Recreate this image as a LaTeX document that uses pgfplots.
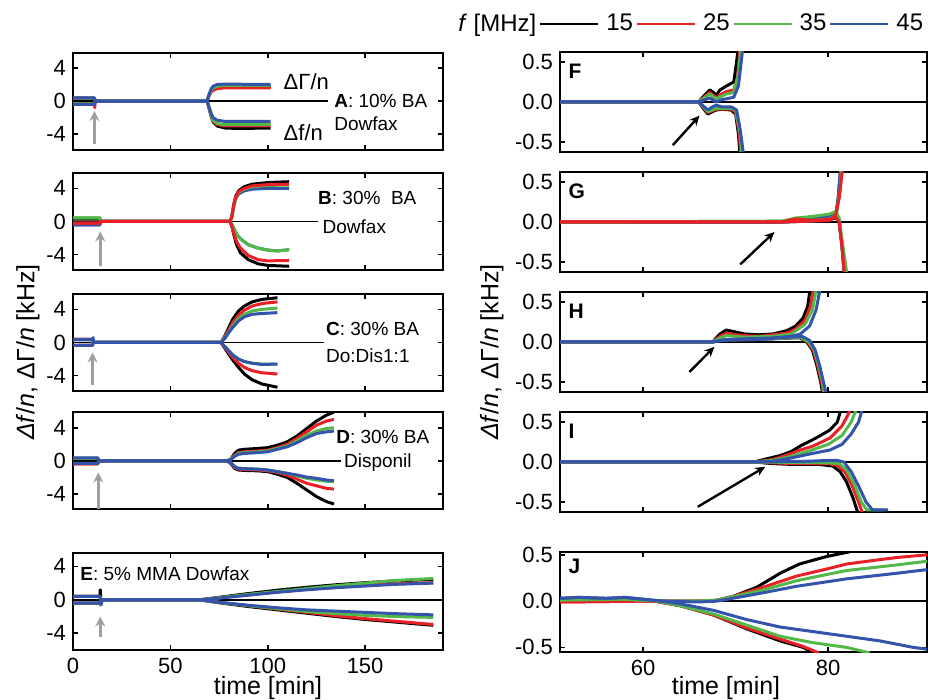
\documentclass[border=0pt]{standalone}
\usepackage{fontspec}
\setmainfont{Liberation Sans}
\usepackage{pgfplots}
\pgfplotsset{compat=1.18}
\usetikzlibrary{arrows.meta}

\definecolor{qred}{RGB}{235,32,38}
\definecolor{qgreen}{RGB}{84,184,72}
\definecolor{qblue}{RGB}{52,84,172}

\tikzset{
  c15/.style={black},
  c25/.style={qred},
  c35/.style={qgreen},
  c45/.style={qblue},
  zero/.style={black, line width=0.8pt},
  lab/.style={font=\fontsize{9.5}{11}\selectfont, anchor=west, inner sep=0pt},
  plab/.style={font=\fontsize{10.5}{12}\selectfont\bfseries, anchor=west, inner sep=0pt},
  garrow/.style={-{Stealth[length=5pt,width=5pt]}, gray!75, line width=1.5pt},
  karrow/.style={-{Stealth[length=5pt,width=4.5pt]}, black, line width=1.2pt},
}
\pgfplotsset{
  panel/.style={
    scale only axis,
    axis line style={line width=1pt},
    tick align=inside,
    major tick length=2.5pt,
    tick style={black, line width=0.8pt},
    ticklabel style={font=\fontsize{11}{12}\selectfont},
    xticklabel style={inner ysep=1pt, yshift=-2.7pt},
    /pgf/number format/assume math mode=true,
    every axis plot/.append style={line width=1.5pt, line join=round},
  },
  leftpanel/.style={panel,
    width=185pt, height=48.5pt,
    xmin=0, xmax=190, ymin=-5.85, ymax=5.85,
    xtick={0,50,100,150}, xticklabels={},
    ytick={-4,0,4}, yticklabels={-4,0,4},
  },
  rightpanel/.style={panel,
    width=183.5pt, height=50pt,
    xmin=51, xmax=90.7, ymin=-0.625, ymax=0.625,
    xtick={60,80}, xticklabels={},
    ytick={-0.5,0,0.5}, yticklabels={-0.5,0.0,0.5},
  },
}

\begin{document}
\begin{tikzpicture}
\path[use as bounding box] (0pt,0pt) rectangle (464pt,-350pt);

% ---------------- A ----------------
\begin{axis}[leftpanel, at={(36.5pt,-26.3pt)}, anchor=north west]
\addplot[zero] coordinates {(0,0) (131,0)};
\addplot[c15] coordinates {(0,0.35) (11,0.35) (11.3,0) (68,0) (69,0.1) (70,0.8) (71,1.3) (72,1.6) (74,1.8) (78,1.8) (90,1.75) (101.5,1.75)};
\addplot[c15] coordinates {(0,-0.35) (11,-0.35) (11.3,0) (68,0) (69,-0.1) (70,-1.0) (71,-1.9) (72,-2.5) (74,-3.0) (78,-3.25) (85,-3.3) (101.5,-3.25)};
\addplot[c25] coordinates {(0,0.35) (11,0.35) (11.3,0) (68,0) (69,0.1) (70,0.7) (71,1.1) (72,1.3) (74,1.5) (78,1.6) (90,1.6) (101.5,1.6)};
\addplot[c25] coordinates {(0,-0.35) (11,-0.35) (11.2,-0.8) (11.4,0) (68,0) (69,-0.1) (70,-0.9) (71,-1.8) (72,-2.4) (74,-2.8) (78,-3.0) (101.5,-3.0)};
\addplot[c35] coordinates {(0,0.35) (11,0.35) (11.3,0) (68,0) (69,0.1) (70,0.8) (71,1.3) (72,1.6) (74,1.8) (78,1.9) (101.5,1.9)};
\addplot[c35] coordinates {(0,-0.35) (11,-0.35) (11.3,0) (68,0) (69,-0.1) (70,-0.9) (71,-1.7) (72,-2.3) (74,-2.7) (78,-2.85) (101.5,-2.85)};
\addplot[c45] coordinates {(0,0.4) (11,0.4) (11.3,0) (68,0) (69,0.1) (70,0.9) (71,1.5) (72,1.8) (74,2.0) (78,2.05) (101.5,2.0)};
\addplot[c45] coordinates {(0,-0.4) (11,-0.4) (11.3,0) (68,0) (69,-0.1) (70,-0.8) (71,-1.5) (72,-2.0) (74,-2.3) (78,-2.45) (101.5,-2.45)};
\draw[garrow] (axis cs:11,-5.2) -- (axis cs:11,-1.2);
\node[lab, font=\fontsize{11}{12}\selectfont] at (axis cs:108,2.4) {ΔΓ/n};
\node[lab, font=\fontsize{11}{12}\selectfont] at (axis cs:108,-3.85) {Δf/n};
\node[lab] at (axis cs:134,0) {\textbf{A}: 10\% BA};
\node[lab] at (axis cs:134,-2.7) {Dowfax};
\end{axis}

% ---------------- B ----------------
\begin{axis}[leftpanel, at={(36.5pt,-86.5pt)}, anchor=north west]
\addplot[zero] coordinates {(0,0) (125.7,0)};
\addplot[c15] coordinates {(0,0.3) (13.8,0.3) (14.2,0) (80.5,0) (81.5,0.5) (82.5,2.0) (83.5,3.0) (85,3.7) (88,4.2) (92,4.5) (100,4.7) (111,4.8)};
\addplot[c15] coordinates {(0,-0.3) (13.8,-0.3) (14.2,0) (80.5,0) (81.5,-0.5) (82.5,-1.5) (84,-2.8) (86,-3.8) (90,-4.6) (95,-5.1) (100,-5.3) (111,-5.4)};
\addplot[c45] coordinates {(0,-0.4) (13.8,-0.4) (14.2,0) (80.5,0) (81.5,0.4) (82.5,1.8) (83.5,2.7) (85,3.3) (88,3.7) (92,3.9) (100,4.0) (111,4.0)};
\addplot[c45] coordinates {(0,-0.4) (13.8,-0.4) (14.2,0) (80.5,0) (81.5,-0.3) (82.5,-0.8) (84,-1.5) (86,-2.1) (90,-2.8) (95,-3.2) (100,-3.45) (105,-3.55) (111,-3.4)};
\addplot[c35] coordinates {(0,0.45) (13.8,0.45) (14.2,0) (80.5,0) (81.5,0.4) (82.5,1.8) (83.5,2.8) (85,3.5) (88,3.9) (92,4.2) (100,4.35) (111,4.4)};
\addplot[c35] coordinates {(0,0.45) (13.8,0.45) (14.2,0) (80.5,0) (81.5,-0.3) (82.5,-0.8) (84,-1.5) (86,-2.1) (90,-2.8) (95,-3.2) (100,-3.45) (105,-3.55) (111,-3.4)};
\addplot[c25] coordinates {(0,-0.2) (13.8,-0.2) (14.2,0) (80.5,0) (81.5,0.5) (82.5,1.9) (83.5,2.9) (85,3.6) (88,4.0) (92,4.3) (100,4.45) (111,4.5)};
\addplot[c25] coordinates {(0,-0.2) (13.8,-0.2) (14.2,0) (80.5,0) (81.5,-0.5) (82.5,-1.4) (84,-2.4) (86,-3.2) (90,-4.1) (95,-4.6) (100,-4.75) (111,-4.7)};
\draw[garrow] (axis cs:14,-5.4) -- (axis cs:14,-1.2);
\node[lab] at (axis cs:125.7,2.85) {\textbf{B}: 30\%\ \ BA};
\node[lab] at (axis cs:128,-0.65) {Dowfax};
\end{axis}

% ---------------- C ----------------
\begin{axis}[leftpanel, at={(36.5pt,-147pt)}, anchor=north west]
\addplot[zero] coordinates {(0,0) (128.8,0)};
\addplot[c15] coordinates {(0,0.35) (10,0.35) (10.3,0) (76,0) (78,0.8) (80,1.8) (82,2.8) (85,3.8) (88,4.4) (92,4.9) (97,5.2) (105,5.4)};
\addplot[c15] coordinates {(0,-0.35) (10,-0.35) (10.3,0) (76,0) (78,-0.7) (80,-1.4) (82,-2.1) (85,-3.0) (88,-3.8) (92,-4.5) (97,-5.0) (105,-5.4)};
\addplot[c25] coordinates {(0,0.4) (10,0.4) (10.3,0) (76,0) (78,0.7) (80,1.5) (82,2.4) (85,3.3) (88,3.9) (92,4.4) (97,4.7) (105,4.9)};
\addplot[c25] coordinates {(0,-0.35) (10,-0.35) (10.3,0) (76,0) (78,-0.6) (80,-1.2) (82,-1.8) (85,-2.5) (88,-3.0) (92,-3.4) (97,-3.65) (105,-3.8)};
\addplot[c35] coordinates {(0,0.35) (10,0.35) (10.3,0) (76,0) (78,0.6) (80,1.3) (82,2.0) (85,2.9) (88,3.4) (92,3.8) (97,4.0) (105,4.15)};
\addplot[c35] coordinates {(0,-0.35) (10,-0.35) (10.3,0) (76,0) (78,-0.5) (80,-1.0) (82,-1.5) (85,-2.0) (88,-2.3) (92,-2.5) (97,-2.6) (105,-2.6)};
\addplot[c45] coordinates {(0,0.35) (10,0.35) (10.3,0.6) (10.6,0) (76,0) (78,0.5) (80,1.2) (82,1.8) (85,2.6) (88,3.1) (92,3.4) (97,3.5) (105,3.6)};
\addplot[c45] coordinates {(0,-0.35) (10,-0.35) (10.3,0) (76,0) (78,-0.5) (80,-1.0) (82,-1.5) (85,-2.0) (88,-2.3) (92,-2.5) (97,-2.65) (105,-2.6)};
\draw[garrow] (axis cs:10,-5.1) -- (axis cs:10,-1.2);
\node[lab] at (axis cs:129.8,1.6) {\textbf{C}: 30\% BA};
\node[lab] at (axis cs:129.8,-1.55) {Do:Dis1:1};
\end{axis}

% ---------------- D ----------------
\begin{axis}[leftpanel, at={(36.5pt,-206.2pt)}, anchor=north west]
\addplot[zero] coordinates {(0,0) (137.5,0)};
\addplot[c15] coordinates {(0,0.3) (12.8,0.3) (13.2,0) (79,0) (81,0.2) (83,0.9) (85,1.3) (88,1.4) (95,1.5) (100,1.6) (105,1.9) (110,2.3) (115,3.0) (120,3.9) (125,4.8) (130,5.5) (134,5.9)};
\addplot[c15] coordinates {(0,-0.3) (12.8,-0.3) (13.2,0) (79,0) (81,-0.3) (83,-0.9) (85,-1.1) (88,-1.15) (95,-1.2) (100,-1.3) (105,-1.6) (110,-2.0) (115,-2.7) (120,-3.5) (125,-4.3) (130,-4.9) (134,-5.2)};
\addplot[c25] coordinates {(0,-0.35) (12.8,-0.35) (13.2,0) (79,0) (81,0.2) (83,0.7) (85,1.0) (88,1.1) (95,1.2) (100,1.3) (105,1.6) (110,2.0) (115,2.7) (120,3.5) (125,4.3) (130,4.8) (134,5.0)};
\addplot[c25] coordinates {(0,-0.35) (12.8,-0.35) (13.2,0) (79,0) (81,-0.3) (83,-0.8) (85,-1.0) (95,-1.1) (100,-1.2) (105,-1.4) (110,-1.7) (115,-2.2) (120,-2.7) (125,-3.0) (130,-3.3) (134,-3.4)};
\addplot[c35] coordinates {(0,0.3) (12.8,0.3) (13.2,0) (79,0) (81,0.2) (83,0.6) (85,0.9) (88,1.0) (95,1.1) (100,1.2) (105,1.5) (110,1.8) (115,2.4) (120,3.1) (125,3.6) (130,3.9) (134,4.0)};
\addplot[c35] coordinates {(0,-0.3) (12.8,-0.3) (13.2,0) (79,0) (81,-0.2) (83,-0.7) (85,-0.9) (95,-1.0) (100,-1.1) (105,-1.3) (110,-1.5) (115,-1.8) (120,-2.1) (125,-2.3) (130,-2.45) (134,-2.5)};
\addplot[c45] coordinates {(0,0.35) (12.8,0.35) (13.2,0) (79,0) (81,0.15) (83,0.55) (85,0.8) (88,0.9) (95,1.0) (100,1.1) (105,1.4) (110,1.7) (115,2.2) (120,2.8) (125,3.3) (130,3.5) (134,3.6)};
\addplot[c45] coordinates {(0,-0.3) (12.8,-0.3) (13.2,0) (79,0) (81,-0.2) (83,-0.7) (85,-0.9) (95,-1.0) (100,-1.1) (105,-1.3) (110,-1.5) (115,-1.7) (120,-1.95) (125,-2.1) (130,-2.3) (134,-2.4)};
\draw[garrow] (axis cs:13,-5.85) -- (axis cs:13,-1.4);
\node[lab] at (axis cs:135,2.9) {\textbf{D}: 30\% BA};
\node[lab] at (axis cs:139,-0.2) {Disponil};
\end{axis}

% ---------------- E ----------------
\begin{axis}[leftpanel, at={(36.5pt,-276.5pt)}, anchor=north west,
  ymin=-6, ymax=5.6, xticklabels={0,50,100,150}]
\addplot[zero] coordinates {(0,0) (190,0)};
\addplot[c15] coordinates {(0,0.4) (13.8,0.4) (14,1.2) (14.3,0) (60,0) (65,0) (75,0.3) (90,0.75) (105,1.15) (120,1.5) (135,1.8) (150,2.05) (165,2.25) (185,2.45)};
\addplot[c15] coordinates {(0,-0.4) (13.8,-0.4) (14.3,0) (60,0) (65,0) (75,-0.35) (90,-0.8) (105,-1.2) (120,-1.6) (135,-2.0) (150,-2.35) (165,-2.65) (185,-3.05)};
\addplot[c25] coordinates {(0,0.4) (13.8,0.4) (14.3,0) (60,0) (65,0) (75,0.25) (90,0.6) (105,0.95) (120,1.25) (135,1.5) (150,1.75) (165,1.9) (185,2.05)};
\addplot[c25] coordinates {(0,-0.4) (13.8,-0.4) (14.3,0) (60,0) (65,0) (75,-0.3) (90,-0.7) (105,-1.1) (120,-1.5) (135,-1.9) (150,-2.25) (165,-2.55) (185,-2.95)};
\addplot[c35] coordinates {(0,0.4) (13.8,0.4) (14.3,0) (60,0) (65,0) (75,0.25) (90,0.65) (105,1.0) (120,1.35) (135,1.7) (150,2.0) (165,2.3) (185,2.55)};
\addplot[c35] coordinates {(0,-0.4) (13.8,-0.4) (14.3,0) (60,0) (65,0) (75,-0.3) (90,-0.7) (105,-1.05) (120,-1.4) (135,-1.65) (150,-1.85) (165,-2.0) (185,-2.1)};
\addplot[c45] coordinates {(0,0.4) (13.8,0.4) (14.3,-0.6) (15,0) (60,0) (65,0) (75,0.2) (90,0.55) (105,0.9) (120,1.2) (135,1.45) (150,1.65) (165,1.85) (185,2.0)};
\addplot[c45] coordinates {(0,-0.4) (13.8,-0.4) (14.3,-0.6) (15,0) (60,0) (65,0) (75,-0.3) (90,-0.65) (105,-0.95) (120,-1.2) (135,-1.35) (150,-1.5) (165,-1.65) (185,-1.8)};
\draw[garrow] (axis cs:14,-4.4) -- (axis cs:14,-2.0);
\node[lab] at (axis cs:3.6,3.1) {\textbf{E}: 5\% MMA Dowfax};
\end{axis}

% ---------------- F ----------------
\begin{axis}[rightpanel, at={(280pt,-26pt)}, anchor=north west,
  legend style={at={(1.015,1.28)}, anchor=east, draw=none, fill=none,
    font=\fontsize{12}{14}\selectfont, legend columns=5,
    nodes={inner xsep=1.5pt},
    /tikz/every odd column/.append style={column sep=2pt}},
  legend image code/.code={\draw[#1, line width=1pt] (0pt,0pt) -- (29pt,0pt);}]
\addlegendimage{empty legend}
\addlegendentry{\textit{f} [MHz]}
\addlegendimage{c15}
\addlegendentry{15}
\addlegendimage{c25}
\addlegendentry{25}
\addlegendimage{c35}
\addlegendentry{35}
\addlegendimage{c45}
\addlegendentry{45}
\addplot[zero] coordinates {(51,0) (90.7,0)};
\addplot[c15] coordinates {(51,0) (66,0) (66.6,0.08) (67.2,0.15) (67.6,0.12) (67.9,0.08) (68.3,0.15) (69,0.2) (69.8,0.25) (70.1,0.5) (70.3,0.7)};
\addplot[c15] coordinates {(51,0) (66,0) (66.5,-0.08) (67,-0.15) (67.5,-0.12) (67.9,-0.1) (68.5,-0.09) (69.5,-0.1) (70,-0.15) (70.3,-0.4) (70.5,-0.7)};
\addplot[c25] coordinates {(51,0) (66,0) (67.2,0.12) (67.9,0.05) (68.5,0.1) (69,0.13) (69.8,0.15) (70.2,0.3) (70.5,0.7)};
\addplot[c25] coordinates {(51,0) (66,0) (67,-0.13) (67.9,-0.09) (69.5,-0.09) (70,-0.12) (70.4,-0.4) (70.6,-0.7)};
\addplot[c35] coordinates {(51,0) (66,0) (67.2,0.1) (67.9,0.04) (69,0.1) (69.8,0.12) (70.3,0.35) (70.6,0.7)};
\addplot[c35] coordinates {(51,0) (66,0) (67,-0.12) (67.9,-0.08) (69.5,-0.08) (70,-0.1) (70.5,-0.4) (70.7,-0.7)};
\addplot[c45] coordinates {(51,0) (66,0) (67.2,0.05) (67.9,0.0) (68.5,0.03) (69,0.04) (69.8,0.06) (70.3,0.2) (70.8,0.7)};
\addplot[c45] coordinates {(51,0) (66,0) (66.5,-0.05) (67,-0.1) (67.5,-0.06) (67.9,-0.04) (68.5,-0.06) (69.5,-0.06) (70.1,-0.1) (70.5,-0.35) (70.9,-0.7)};
\draw[karrow] (axis cs:63.2,-0.54) -- (axis cs:66.1,-0.17);
\node[plab] at (axis cs:51.9,0.39) {F};
\end{axis}

% ---------------- G ----------------
\begin{axis}[rightpanel, at={(280pt,-86pt)}, anchor=north west]
\addplot[zero] coordinates {(51,0) (90.7,0)};
\addplot[c15] coordinates {(51,0) (75,0) (80,0.02) (80.8,0.05) (81.1,0.3) (81.4,0.7)};
\addplot[c15] coordinates {(51,0) (75,0) (76.5,0.03) (78,0.03) (80,0.06) (80.8,0.1) (81.2,0.0) (81.5,-0.3) (81.8,-0.7)};
\addplot[c45] coordinates {(51,0) (75,0) (80,0.02) (80.8,0.06) (81.1,0.3) (81.35,0.7)};
\addplot[c45] coordinates {(51,0) (75,0) (76.5,0.03) (78,0.03) (80,0.06) (80.8,0.1) (81.2,0.0) (81.5,-0.3) (81.8,-0.7)};
\addplot[c35] coordinates {(51,0) (75,0.01) (80,0.03) (80.9,0.08) (81.3,0.4) (81.5,0.7)};
\addplot[c35] coordinates {(51,0) (75,0.01) (76.5,0.05) (77.5,0.06) (79,0.08) (80.2,0.1) (80.8,0.13) (81.2,0.05) (81.6,-0.3) (82.1,-0.7)};
\addplot[c25] coordinates {(51,0) (75,0) (76.5,0.04) (78,0.02) (80,0.03) (80.8,0.06) (81.2,0.0) (81.5,-0.3) (81.8,-0.7)};
\addplot[c25] coordinates {(51,0) (75,0) (78,0.01) (80.2,0.02) (80.8,0.08) (81.2,0.3) (81.6,0.7)};
\draw[karrow] (axis cs:70.5,-0.53) -- (axis cs:74.2,-0.125);
\node[plab] at (axis cs:51.9,0.39) {G};
\end{axis}

% ---------------- H ----------------
\begin{axis}[rightpanel, at={(280pt,-146pt)}, anchor=north west]
\addplot[zero] coordinates {(51,0) (90.7,0)};
\addplot[c15] coordinates {(51,0) (67.5,0) (68.3,0.1) (69,0.15) (69.8,0.13) (71,0.1) (72.5,0.09) (74,0.1) (75.5,0.14) (76.5,0.2) (77.3,0.3) (77.8,0.45) (78.1,0.7)};
\addplot[c15] coordinates {(51,0) (67.5,0) (68.5,0.03) (70,0.03) (72,0.03) (74,0.04) (76,0.05) (77,0.05) (77.7,0.0) (78.3,-0.1) (78.8,-0.3) (79.2,-0.5) (79.5,-0.7)};
\addplot[c25] coordinates {(51,0) (67.5,0) (68.3,0.07) (69,0.11) (70,0.09) (71,0.08) (72.5,0.07) (74,0.09) (75.5,0.11) (76.5,0.16) (77.5,0.27) (78.1,0.45) (78.5,0.7)};
\addplot[c25] coordinates {(51,0) (67.5,0) (68.5,0.03) (72,0.03) (77,0.06) (77.8,0.0) (78.4,-0.1) (78.9,-0.3) (79.3,-0.5) (79.6,-0.7)};
\addplot[c35] coordinates {(51,0) (67.5,0) (68.3,0.05) (69,0.08) (71,0.06) (74,0.07) (76,0.1) (77.5,0.22) (78.3,0.4) (78.8,0.7)};
\addplot[c35] coordinates {(51,0) (67.5,0) (68.5,0.03) (72,0.03) (77,0.06) (77.9,0.0) (78.5,-0.1) (79,-0.3) (79.4,-0.5) (79.7,-0.7)};
\addplot[c45] coordinates {(51,0) (67.5,0) (68.3,0.02) (69,0.03) (71,0.04) (74,0.05) (76,0.07) (77,0.1) (78,0.2) (78.7,0.4) (79.2,0.7)};
\addplot[c45] coordinates {(51,0) (67.5,0) (68.5,0.02) (72,0.03) (77.2,0.07) (78,0.02) (78.6,-0.1) (79.1,-0.3) (79.5,-0.5) (79.9,-0.7)};
\draw[karrow] (axis cs:65.0,-0.375) -- (axis cs:67.7,-0.06);
\node[plab] at (axis cs:51.9,0.39) {H};
\end{axis}

% ---------------- I ----------------
\begin{axis}[rightpanel, at={(280pt,-206pt)}, anchor=north west]
\addplot[zero] coordinates {(51,0) (90.7,0)};
\addplot[c15] coordinates {(51,0) (72,0) (73,0.03) (74.8,0.08) (76,0.13) (77,0.2) (78.7,0.3) (80.2,0.4) (81,0.5) (81.5,0.7)};
\addplot[c15] coordinates {(51,0) (72,0) (74,-0.02) (76,-0.03) (79,-0.03) (80.5,-0.05) (81.3,-0.12) (82,-0.25) (82.7,-0.45) (83.4,-0.7)};
\addplot[c25] coordinates {(51,0) (72,0) (74,0.03) (75.9,0.1) (77,0.15) (78.4,0.2) (80.2,0.3) (81.5,0.45) (82.2,0.6) (82.5,0.7)};
\addplot[c25] coordinates {(51,0) (72,0) (74,-0.01) (76,-0.02) (80,-0.02) (81,-0.04) (81.8,-0.12) (82.5,-0.27) (83.3,-0.5) (83.9,-0.7)};
\addplot[c35] coordinates {(51,0) (72,0) (74,0.02) (76,0.07) (78,0.14) (80,0.22) (81.5,0.33) (82.5,0.5) (83.2,0.7)};
\addplot[c35] coordinates {(51,0) (72,0) (80,-0.01) (81.2,-0.02) (82,-0.1) (82.8,-0.27) (83.6,-0.5) (84.2,-0.6) (86,-0.6)};
\addplot[c45] coordinates {(51,0) (72,0) (74,0.01) (76,0.05) (78,0.1) (80.2,0.15) (81.5,0.22) (82.5,0.35) (83.3,0.5) (83.8,0.7)};
\addplot[c45] coordinates {(51,0) (72,0) (78,0.01) (80,0.02) (81,0.02) (81.7,0.0) (82.5,-0.12) (83.3,-0.3) (84.1,-0.5) (84.8,-0.6) (86.5,-0.6)};
\draw[karrow] (axis cs:65.9,-0.56) -- (axis cs:73.2,-0.06);
\node[plab] at (axis cs:51.9,0.39) {I};
\end{axis}

% ---------------- J ----------------
\begin{axis}[rightpanel, at={(280pt,-276pt)}, anchor=north west,
  ymin=-0.55, ymax=0.53, xticklabels={60,80}]
\addplot[zero] coordinates {(51,0) (90.7,0)};
\addplot[c15] coordinates {(51,0) (58,0.01) (61.4,0) (65,0) (67.6,0.0) (69.7,0.05) (72.3,0.15) (74.8,0.3) (76.9,0.4) (79.8,0.48) (82.7,0.54)};
\addplot[c15] coordinates {(51,0) (58,0.01) (61.4,0) (64,-0.05) (67.6,-0.15) (71.2,-0.3) (74.8,-0.43) (77.3,-0.5) (78.4,-0.56)};
\addplot[c25] coordinates {(51,-0.01) (61,0) (66,0) (68,0.01) (69.7,0.05) (73,0.15) (76.6,0.27) (80,0.35) (82,0.4) (85,0.44) (87.4,0.47) (90.7,0.5)};
\addplot[c25] coordinates {(51,-0.01) (61,0) (64,-0.05) (67.6,-0.15) (71.2,-0.29) (74.8,-0.41) (77.3,-0.49) (79,-0.56)};
\addplot[c35] coordinates {(51,0.02) (58,0.02) (62,0) (66,0) (68,0.01) (73,0.12) (76.6,0.22) (80,0.29) (82,0.33) (87.4,0.39) (90.7,0.43)};
\addplot[c35] coordinates {(51,0.01) (58,0.02) (61.4,0) (64,-0.05) (67.6,-0.14) (71.2,-0.26) (74.8,-0.38) (78.4,-0.45) (82,-0.5) (84.5,-0.56)};
\addplot[c45] coordinates {(51,0.03) (53,0.04) (56,0.03) (58,0.04) (60,0.02) (62,0) (66,-0.01) (68,0.0) (73,0.09) (76.6,0.16) (80,0.21) (82,0.24) (87.4,0.3) (90.7,0.34)};
\addplot[c45] coordinates {(51,0.03) (53,0.04) (56,0.03) (58,0.04) (60,0.02) (62,0) (64,-0.03) (67.6,-0.1) (71.2,-0.2) (74.8,-0.28) (78.4,-0.33) (82,-0.38) (85.6,-0.43) (89.2,-0.5) (90.7,-0.52)};
\node[plab] at (axis cs:51.9,0.375) {J};
\end{axis}

% axis titles
\node[rotate=90, font=\fontsize{12.5}{14}\selectfont] at (14pt,-176pt) {\textit{Δf}/\textit{n}, ΔΓ/\textit{n} [kHz]};
\node[rotate=90, font=\fontsize{12.5}{14}\selectfont] at (246pt,-176pt) {\textit{Δf}/\textit{n}, ΔΓ/\textit{n} [kHz]};
\node[font=\fontsize{12.5}{14}\selectfont, anchor=base, inner sep=0pt] at (134pt,-347.5pt) {time [min]};
\node[font=\fontsize{12.5}{14}\selectfont, anchor=base, inner sep=0pt] at (363pt,-347.5pt) {time [min]};
\end{tikzpicture}
\end{document}
